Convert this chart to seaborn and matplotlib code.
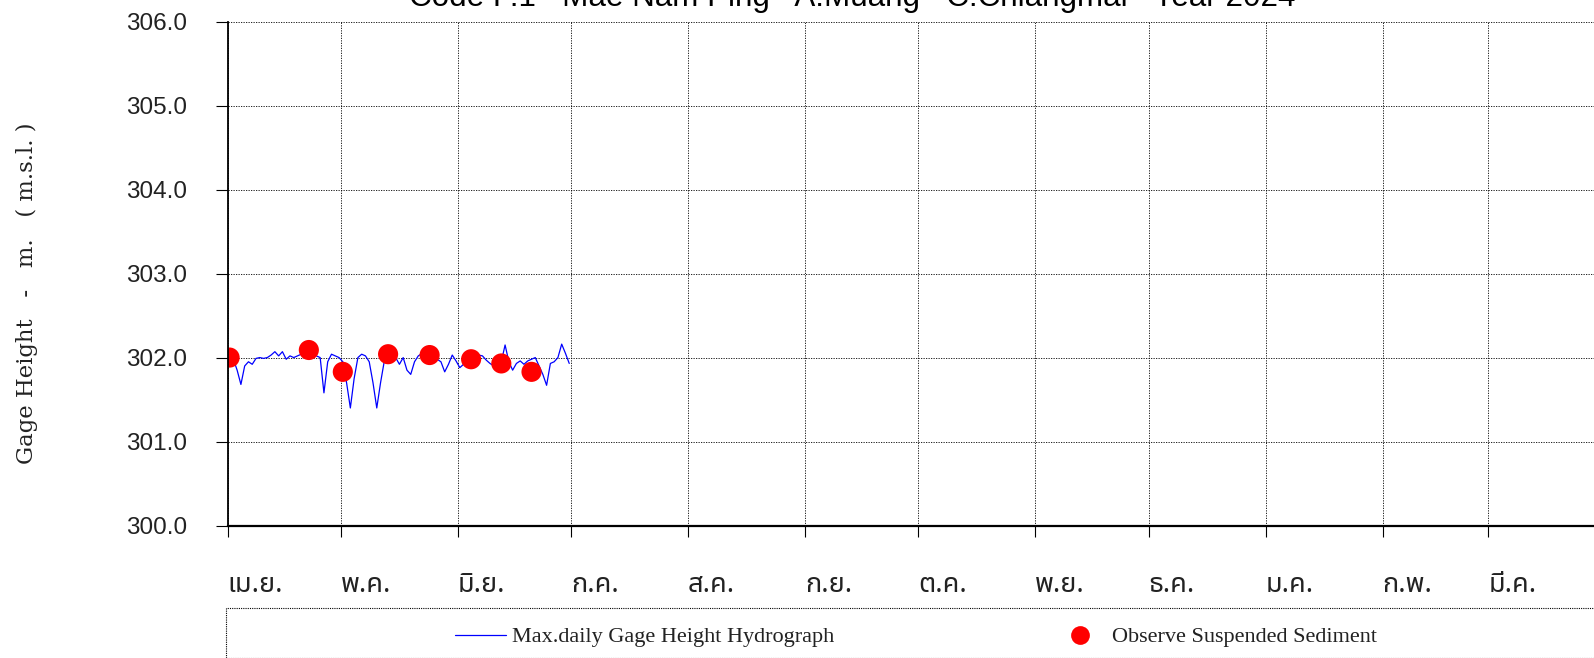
import numpy as np
import pandas as pd
import matplotlib
matplotlib.use("Agg")
import matplotlib.pyplot as plt
import seaborn as sns
from matplotlib import font_manager
from matplotlib.ft2font import FT2Font
from matplotlib.patches import Rectangle
from matplotlib.lines import Line2D

# ---------------- data ----------------
title_text = "Code P.1   Mae Nam Ping   A.Muang   C.Chiangmai   Year 2024"
ylabel_text = "Gage Height   -   m.   ( m.s.l. )"
month_labels = ["เม.ย.", "พ.ค.", "มิ.ย.", "ก.ค.", "ส.ค.", "ก.ย.",
                "ต.ค.", "พ.ย.", "ธ.ค.", "ม.ค.", "ก.พ.", "มี.ค."]
month_starts = ["2024-04-01", "2024-05-01", "2024-06-01", "2024-07-01",
                "2024-08-01", "2024-09-01", "2024-10-01", "2024-11-01",
                "2024-12-01", "2025-01-01", "2025-02-01", "2025-03-01"]
year_start = "2024-04-01"
year_end = "2025-04-01"
y_ticks = [300.0, 301.0, 302.0, 303.0, 304.0, 305.0, 306.0]

# max daily gage height, 1 Apr 2024 .. 30 Jun 2024
gage_height = [
    302.00, 301.98, 301.85, 301.68, 301.90, 301.95, 301.92, 301.99, 302.00, 301.99,
    302.00, 302.03, 302.07, 302.02, 302.07, 301.98, 302.02, 302.00, 302.02, 302.04,
    302.06, 302.08, 302.04, 302.02, 302.00, 301.58, 301.95, 302.04, 302.02, 302.00,
    301.95, 301.70, 301.40, 301.75, 302.00, 302.04, 302.02, 301.95, 301.70, 301.40,
    301.70, 301.96, 302.03, 302.04, 302.00, 301.92, 302.00, 301.85, 301.80, 301.95,
    302.02, 302.05, 302.03, 302.04, 302.02, 301.98, 301.95, 301.83, 301.92, 302.03,
    301.96, 301.88, 301.92, 301.96, 301.98, 302.00, 302.03, 302.02, 301.97, 301.93,
    301.90, 301.92, 301.95, 302.15, 301.95, 301.85, 301.93, 301.96, 301.92, 301.96,
    301.98, 302.00, 301.90, 301.80, 301.67, 301.93, 301.95, 302.00, 302.16, 302.05,
    301.93,
]
sediment_dates = ["2024-04-01", "2024-04-22", "2024-05-01", "2024-05-13",
                  "2024-05-24", "2024-06-04", "2024-06-12", "2024-06-20"]
sediment_height = [302.00, 302.09, 301.83, 302.04, 302.03, 301.98, 301.93, 301.83]

# ---------------- fonts ----------------
def find_thai_font():
    prefer = ["Noto Sans Thai", "Noto Sans Thai Looped", "Loma", "Garuda",
              "Norasi", "Kinnari", "Sawasdee", "Tlwg Typo", "Umpush", "Waree"]
    found = {}
    for fe in font_manager.fontManager.ttflist:
        try:
            cmap = FT2Font(fe.fname).get_charmap()
        except Exception:
            continue
        if 0x0E40 in cmap and 0x0E21 in cmap and 0x0E04 in cmap:
            found.setdefault(fe.name, fe.fname)
    for p in prefer:
        if p in found:
            return p
    if found:
        return sorted(found)[0]
    return "DejaVu Sans"

thai_family = find_thai_font()

sns.set_theme(style="white")
plt.rcParams["font.family"] = ["Liberation Sans", "DejaVu Sans"]

# ---------------- build frames ----------------
t0 = pd.Timestamp(year_start)
line_df = pd.DataFrame({
    "date": pd.date_range(year_start, periods=len(gage_height), freq="D"),
    "height": gage_height,
})
line_df["day"] = (line_df["date"] - t0).dt.days + 0.5
pts_df = pd.DataFrame({"date": pd.to_datetime(sediment_dates), "height": sediment_height})
pts_df["day"] = (pts_df["date"] - t0).dt.days + 0.5
tick_days = [(pd.Timestamp(m) - t0).days for m in month_starts]
end_day = (pd.Timestamp(year_end) - t0).days

# ---------------- figure ----------------
W, H = 1594, 658
fig = plt.figure(figsize=(W / 100, H / 100), dpi=100)
fig.patch.set_facecolor("white")
ax_l, ax_r, ax_t, ax_b = 227.7, 1605.2, 21.5, 525.6
ax = fig.add_axes([ax_l / W, 1 - ax_b / H, (ax_r - ax_l) / W, (ax_b - ax_t) / H])
ax.set_facecolor("white")

sns.lineplot(data=line_df, x="day", y="height", ax=ax, color="#0000FF",
             linewidth=0.9, zorder=3, legend=False)
sns.scatterplot(data=pts_df, x="day", y="height", ax=ax, color="#FF0000",
                s=210, edgecolor="none", zorder=4, legend=False)

ax.set_xlim(0, end_day)
ax.set_ylim(y_ticks[0], y_ticks[-1])
ax.set_yticks(y_ticks)
ax.set_yticklabels([f"{v:.1f}" for v in y_ticks])
ax.set_xticks(tick_days)
ax.set_xticklabels(month_labels, family=[thai_family, "DejaVu Sans"],
                   fontsize=19.5, ha="left", color="#222222")
ax.set_xlabel("")
ax.set_ylabel("")

ax.grid(True, which="major", color="black", linestyle=(0, (1.5, 1.5)), linewidth=0.6)
for s in ["top", "right"]:
    ax.spines[s].set_visible(False)
ax.spines["left"].set_color("black")
ax.spines["left"].set_linewidth(1.3)
ax.spines["bottom"].set_color("black")
ax.spines["bottom"].set_linewidth(1.6)
ax.spines["left"].set_zorder(5)
ax.spines["bottom"].set_zorder(5)

ax.tick_params(axis="y", direction="out", length=9, width=0.8, color="black",
               pad=20, labelsize=17.5, labelcolor="#222222", left=True)
ax.tick_params(axis="x", direction="out", length=8, width=0.8, color="black",
               pad=24.5, bottom=True)
for lab in ax.get_xticklabels():
    lab.set_horizontalalignment("left")

# title (cut at top like the reference)
fig.text(852 / W, 1 - 6 / H, title_text, ha="center", va="baseline",
         fontsize=22.6, family=["Liberation Sans", "DejaVu Sans"], color="black")

# y label
fig.text(26.5 / W, 1 - 293 / H, ylabel_text, rotation=90, ha="center", va="center",
         fontsize=16.4, family=["DejaVu Serif"], color="#222222")

# legend box
fig.patches.append(Rectangle((225.7 / W, 0), (W - 225.7) / W + 0.05, 1 - 608 / H,
                             transform=fig.transFigure, fill=False,
                             edgecolor="black", linewidth=0.8,
                             linestyle=(0, (1, 1)), zorder=1))
handles = [
    Line2D([], [], color="#0000FF", linewidth=0.9),
    Line2D([], [], color="#FF0000", marker="o", linestyle="none", markersize=13.5,
           markeredgewidth=0),
]
labels = ["Max.daily Gage Height Hydrograph", "Observe Suspended Sediment"]
fig.legend(handles, labels, loc="center", bbox_to_anchor=(916 / W, 1 - 637 / H),
           ncol=2, frameon=False, handlelength=2.3, handletextpad=0.3,
           columnspacing=9.9,
           prop={"family": ["Liberation Serif", "DejaVu Serif"], "size": 16},
           labelcolor="#222222")

fig.savefig("out.png", dpi=100, facecolor="white")
